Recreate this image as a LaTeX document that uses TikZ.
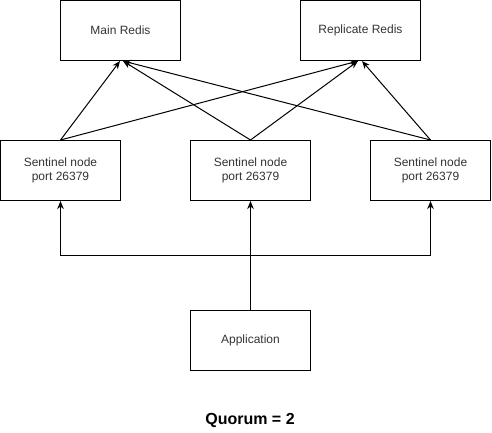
\documentclass[tikz,border=0pt]{standalone}
\usepackage{fontspec}
\setmainfont{Liberation Sans}
\usetikzlibrary{arrows.meta}
\begin{document}
\begin{tikzpicture}[x=1pt,y=-1pt,
  box/.style={draw, line width=1pt, minimum width=120pt, minimum height=60pt, inner sep=0pt, align=center, font=\fontsize{12}{14}\selectfont, text=black!80},
  arr/.style={draw, line width=1pt, -{Stealth[length=8pt,width=6.5pt,inset=2.5pt]}}]
\useasboundingbox (0,0) rectangle (492,432);
\node[box] (main) at (120.5,30.5) {Main Redis};
\node[box] (rep) at (360.5,30.5) {Replicate Redis};
\node[box] (s1) at (60.5,170.5) {Sentinel node\\port 26379};
\node[box] (s2) at (250.5,170.5) {Sentinel node\\port 26379};
\node[box] (s3) at (430.5,170.5) {Sentinel node\\port 26379};
\node[box] (app) at (250.5,340.5) {Application};
\node[font=\bfseries\fontsize{16}{19}\selectfont] (q) at (250,420) {Quorum = 2};
\coordinate (j) at (250.5,255.5);
\draw[arr] (s1.north) -- ([xshift=-0.5pt]main.south);
\draw[arr] (s1.north) -- ([xshift=-2.5pt]rep.south);
\draw[arr] (s2.north) -- ([xshift=2.5pt]main.south);
\draw[arr] (s2.north) -- ([xshift=-2.5pt]rep.south);
\draw[arr] (s3.north) -- ([xshift=2.5pt]main.south);
\draw[arr] (s3.north) -- ([xshift=1.5pt]rep.south);
\draw[arr] (app.north) -- (s2.south);
\draw[arr] (j) -| (s1.south);
\draw[arr] (j) -| (s3.south);
\end{tikzpicture}
\end{document}
